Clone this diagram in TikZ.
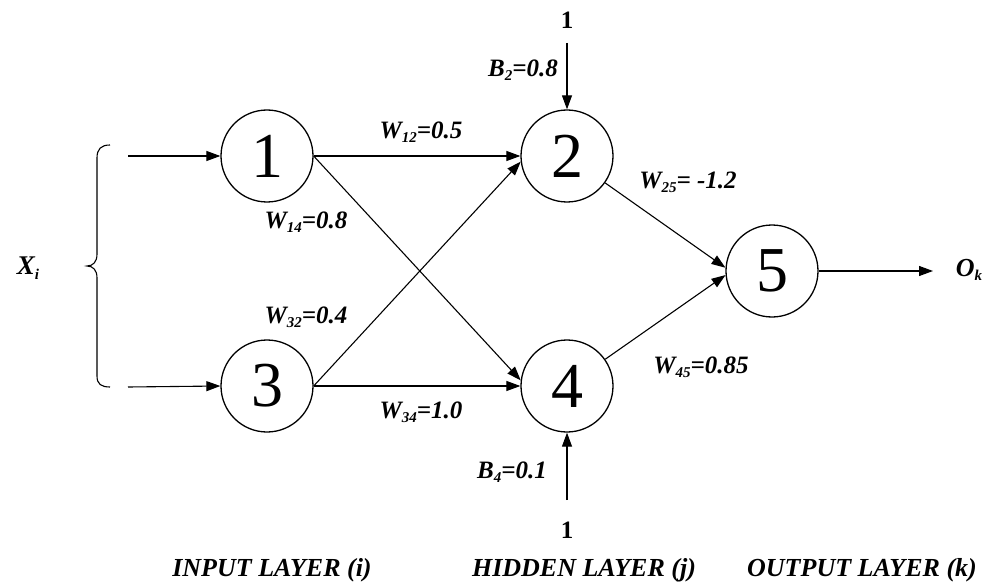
\documentclass[tikz,border=0pt]{standalone}
\usepackage{fontspec}
\setmainfont{Liberation Serif}
\usetikzlibrary{arrows.meta}
\newcommand\lowidx[1]{\raisebox{-0.35ex}{\fontsize{15}{15}\selectfont #1}}
\tikzset{
  neuron/.style={circle,draw,line width=1.3pt,minimum size=92pt,inner sep=0pt,
    font=\fontsize{64}{64}\selectfont},
  link/.style={line width=1.1pt,-{Triangle[length=14pt,width=10pt]}},
  wlab/.style={font=\bfseries\itshape\fontsize{25}{25}\selectfont,inner sep=0pt},
  onelab/.style={font=\bfseries\fontsize{25}{25}\selectfont,inner sep=0pt},
  layerlab/.style={font=\bfseries\itshape\fontsize{26}{26}\selectfont,inner sep=0pt}
}
\begin{document}
\begin{tikzpicture}[x=1pt,y=-1pt]
\useasboundingbox (0,0) rectangle (990,588);
% neurons
\node[neuron] (n1) at (267,156) {1};
\node[neuron] (n2) at (567,156) {2};
\node[neuron] (n3) at (267,386) {3};
\node[neuron] (n4) at (567,386) {4};
\node[neuron] (n5) at (772,271) {5};
% free ends of the input, bias and output arrows
\coordinate (in1) at (128,156);
\coordinate (in3) at (128,387);
\coordinate (b2) at (567,43);
\coordinate (b4) at (567,500);
\coordinate (ok) at (933,271);
% connections
\draw[link] (in1) -- (n1.west);
\draw[link] (in3) -- (n3.west);
\draw[link] (n1.east) -- (n2.west);
\draw[link] (n1.east) -- (n4.173);
\draw[link] (n3.east) -- (n2.187);
\draw[link] (n3.east) -- (n4.west);
\draw[link] (n2) -- (n5.176);
\draw[link] (n4) -- (n5.185);
\draw[link] (n5.east) -- (ok);
\draw[link] (b2) -- (n2.north);
\draw[link] (b4) -- (n4.south);
% input brace
\draw[line width=1.1pt] (110,145) .. controls (101,145) and (97,149) .. (97,158)
  -- (97,254) .. controls (97,262) and (93,266) .. (87,266)
  .. controls (93,266) and (97,270) .. (97,278)
  -- (97,376) .. controls (97,384) and (101,387) .. (110,387);
% labels
\node[wlab,font=\bfseries\itshape\fontsize{27}{27}\selectfont] (xi) at (28,268) {X\lowidx{i}};
\node[wlab,font=\bfseries\itshape\fontsize{26}{26}\selectfont] (ol) at (969,270) {O\lowidx{k}};
\node[wlab] (w12) at (421,132) {W\lowidx{12}=0.5};
\node[wlab] (w14) at (306,222) {W\lowidx{14}=0.8};
\node[wlab] (w32) at (306,317) {W\lowidx{32}=0.4};
\node[wlab] (w34) at (421,412) {W\lowidx{34}=1.0};
\node[wlab] (w25) at (688,182) {W\lowidx{25}= -1.2};
\node[wlab] (w45) at (701,367) {W\lowidx{45}=0.85};
\node[wlab,anchor=east] (bb2) at (558,70) {B\lowidx{2}=0.8};
\node[wlab,anchor=east] (bb4) at (547,472) {B\lowidx{4}=0.1};
\node[onelab] (one2) at (567,20) {1};
\node[onelab] (one4) at (567,530) {1};
\node[layerlab] (li) at (272,570) {INPUT LAYER (i)};
\node[layerlab] (lj) at (584,570) {HIDDEN LAYER (j)};
\node[layerlab] (lk) at (862,570) {OUTPUT LAYER (k)};
\end{tikzpicture}
\end{document}
